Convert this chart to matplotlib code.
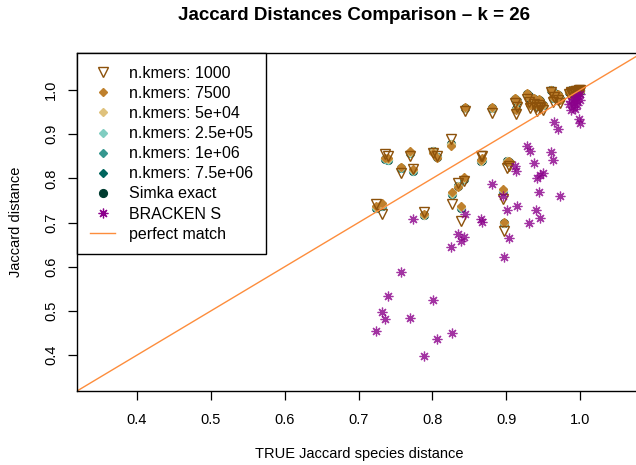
import matplotlib
matplotlib.use("Agg")
import matplotlib.pyplot as plt
from matplotlib.lines import Line2D

plt.rcParams['font.family'] = ['Liberation Sans', 'DejaVu Sans']

# true Jaccard species distance for each sample pair
true_dist = [0.724, 0.732, 0.736, 0.740, 0.758, 0.770, 0.773, 0.789, 0.801, 0.806,
             0.825, 0.827, 0.835, 0.839, 0.842, 0.844, 0.866, 0.867, 0.880, 0.896,
             0.897, 0.901, 0.903, 0.911, 0.913, 0.915, 0.928, 0.931, 0.932, 0.938,
             0.940, 0.942, 0.944, 0.946, 0.946, 0.949, 0.961, 0.963, 0.964, 0.970,
             0.972, 0.985, 0.987, 0.988, 0.990, 0.991, 0.992, 0.993, 0.994, 0.995,
             0.996, 0.997, 0.998, 0.999, 1.000, 1.000]

simka_exact = [0.734, 0.738, 0.844, 0.842, 0.824, 0.858, 0.817, 0.716, 0.862, 0.849,
               0.878, 0.765, 0.783, 0.734, 0.799, 0.959, 0.840, 0.842, 0.959, 0.772,
               0.698, 0.840, 0.836, 0.980, 0.957, 0.975, 0.990, 0.986, 0.968, 0.980,
               0.975, 0.964, 0.977, 0.975, 0.970, 0.966, 1.000, 0.982, 0.993, 0.988,
               0.980, 0.995, 0.998, 1.000, 0.996, 1.000, 0.999, 0.997, 1.000, 0.998,
               1.000, 0.999, 1.000, 0.998, 1.000, 1.000]

k_1000 = [0.743, 0.720, 0.856, 0.851, 0.813, 0.851, 0.820, 0.723, 0.858, 0.851,
          0.889, 0.743, 0.790, 0.704, 0.795, 0.953, 0.851, 0.851, 0.948, 0.754,
          0.682, 0.824, 0.829, 0.971, 0.946, 0.962, 0.980, 0.972, 0.958, 0.968,
          0.962, 0.953, 0.966, 0.962, 0.958, 0.955, 0.996, 0.972, 0.985, 0.978,
          0.970, 0.990, 0.993, 0.996, 0.990, 0.995, 0.996, 0.993, 0.997, 0.996,
          0.998, 0.995, 0.999, 0.998, 1.000, 0.998]

k_7500 = [0.738, 0.744, 0.846, 0.846, 0.826, 0.862, 0.820, 0.720, 0.858, 0.846,
          0.874, 0.769, 0.780, 0.738, 0.803, 0.962, 0.842, 0.846, 0.962, 0.776,
          0.702, 0.838, 0.839, 0.982, 0.955, 0.976, 0.992, 0.984, 0.966, 0.982,
          0.972, 0.966, 0.979, 0.972, 0.968, 0.969, 1.000, 0.984, 0.991, 0.990,
          0.978, 0.996, 0.997, 1.000, 0.995, 0.999, 1.000, 0.996, 0.999, 0.997,
          1.000, 0.998, 1.000, 0.997, 0.999, 1.000]

k_50000 = [0.736, 0.741, 0.845, 0.843, 0.825, 0.860, 0.818, 0.717, 0.861, 0.848,
           0.877, 0.766, 0.782, 0.735, 0.800, 0.960, 0.840, 0.843, 0.960, 0.773,
           0.699, 0.839, 0.837, 0.981, 0.956, 0.975, 0.990, 0.985, 0.967, 0.980,
           0.974, 0.965, 0.977, 0.974, 0.970, 0.967, 1.000, 0.983, 0.992, 0.988,
           0.979, 0.995, 0.998, 1.000, 0.996, 1.000, 0.999, 0.997, 1.000, 0.998,
           1.000, 0.999, 1.000, 0.998, 1.000, 1.000]

# the larger sketches sit on the exact Simka values
k_250000 = simka_exact
k_1000000 = simka_exact
k_7500000 = simka_exact

bracken = [0.454, 0.497, 0.481, 0.533, 0.589, 0.483, 0.709, 0.398, 0.524, 0.436,
           0.644, 0.450, 0.675, 0.659, 0.668, 0.720, 0.709, 0.702, 0.788, 0.761,
           0.621, 0.729, 0.664, 0.829, 0.817, 0.738, 0.874, 0.698, 0.862, 0.835,
           0.729, 0.801, 0.768, 0.808, 0.711, 0.811, 0.860, 0.842, 0.928, 0.912,
           0.759, 0.968, 0.955, 0.975, 0.962, 0.980, 0.970, 0.957, 0.984, 0.966,
           0.975, 0.986, 0.934, 0.926, 0.978, 0.990]

ticks = [0.4, 0.5, 0.6, 0.7, 0.8, 0.9, 1.0]
tick_labels = ["0.4", "0.5", "0.6", "0.7", "0.8", "0.9", "1.0"]

col_1000 = '#8C510A'
col_7500 = '#BF812D'
col_5e4 = '#DFC27D'
col_25e5 = '#80CDC1'
col_1e6 = '#35978F'
col_75e6 = '#01665E'
col_simka = '#003C30'
col_bracken = '#8B008B'
col_line = '#FD8D3C'

fig = plt.figure(figsize=(6.36, 4.65), dpi=100)
ax = fig.add_axes([77 / 636, 74 / 465, 565 / 636, 338 / 465])

ax.plot(true_dist, simka_exact, 'o', color=col_simka, ms=5.6, ls='none')
ax.plot(true_dist, k_7500000, 'D', color=col_75e6, ms=3.9, ls='none')
ax.plot(true_dist, k_1000000, 'D', color=col_1e6, ms=3.9, ls='none')
ax.plot(true_dist, k_250000, 'D', color=col_25e5, ms=3.9, ls='none')
ax.plot(true_dist, k_50000, 'D', color=col_5e4, ms=3.9, ls='none')
ax.plot(true_dist, k_7500, 'D', color=col_7500, ms=3.9, ls='none')
ax.plot(true_dist, k_1000, 'v', mfc='none', mec=col_1000, mew=1.0, ms=6.8, ls='none')
ax.plot(true_dist, bracken, marker=(8, 2, 0), color=col_bracken, mew=0.9, ms=7.0,
        ls='none', alpha=0.8)
ax.axline((0.5, 0.5), slope=1, color=col_line, lw=1.0)

ax.set_xlim(0.319, 1.0835)
ax.set_ylim(0.319, 1.0835)
ax.set_xticks(ticks)
ax.set_xticklabels(tick_labels)
ax.set_yticks(ticks)
ax.set_yticklabels(tick_labels)
ax.tick_params(axis='both', length=6.5, width=0.9, labelsize=10.5, pad=9)
ax.tick_params(axis='y', labelrotation=90, pad=7)
for lab in ax.get_yticklabels():
    lab.set_va('center')
for s in ax.spines.values():
    s.set_linewidth(1.0)

ax.set_xlabel('TRUE Jaccard species distance', fontsize=10.5, labelpad=15)
ax.set_ylabel('Jaccard distance', fontsize=10.5, labelpad=15)
ax.set_title('Jaccard Distances Comparison \u2013 k = 26', fontsize=13.5,
             fontweight='bold', pad=24, x=0.49)

handles = [
    Line2D([], [], marker='v', mfc='none', mec=col_1000, mew=1.0, ms=6.8, ls='none'),
    Line2D([], [], marker='D', color=col_7500, ms=3.9, ls='none'),
    Line2D([], [], marker='D', color=col_5e4, ms=3.9, ls='none'),
    Line2D([], [], marker='D', color=col_25e5, ms=3.9, ls='none'),
    Line2D([], [], marker='D', color=col_1e6, ms=3.9, ls='none'),
    Line2D([], [], marker='D', color=col_75e6, ms=3.9, ls='none'),
    Line2D([], [], marker='o', color=col_simka, ms=5.6, ls='none'),
    Line2D([], [], marker=(8, 2, 0), color=col_bracken, mew=0.9, ms=7.0, ls='none'),
    Line2D([], [], color=col_line, lw=1.0),
]
labels = ['n.kmers: 1000', 'n.kmers: 7500', 'n.kmers: 5e+04', 'n.kmers: 2.5e+05',
          'n.kmers: 1e+06', 'n.kmers: 7.5e+06', 'Simka exact', 'BRACKEN S',
          'perfect match']
leg = ax.legend(handles, labels, loc='upper left', bbox_to_anchor=(0, 1),
                borderaxespad=0, fontsize=11.5, frameon=True, fancybox=False,
                edgecolor='black', framealpha=1, handlelength=1.6,
                handletextpad=0.85, borderpad=0.8, labelspacing=0.32)
leg.get_frame().set_linewidth(1.0)

fig.savefig('out.png', dpi=100)
